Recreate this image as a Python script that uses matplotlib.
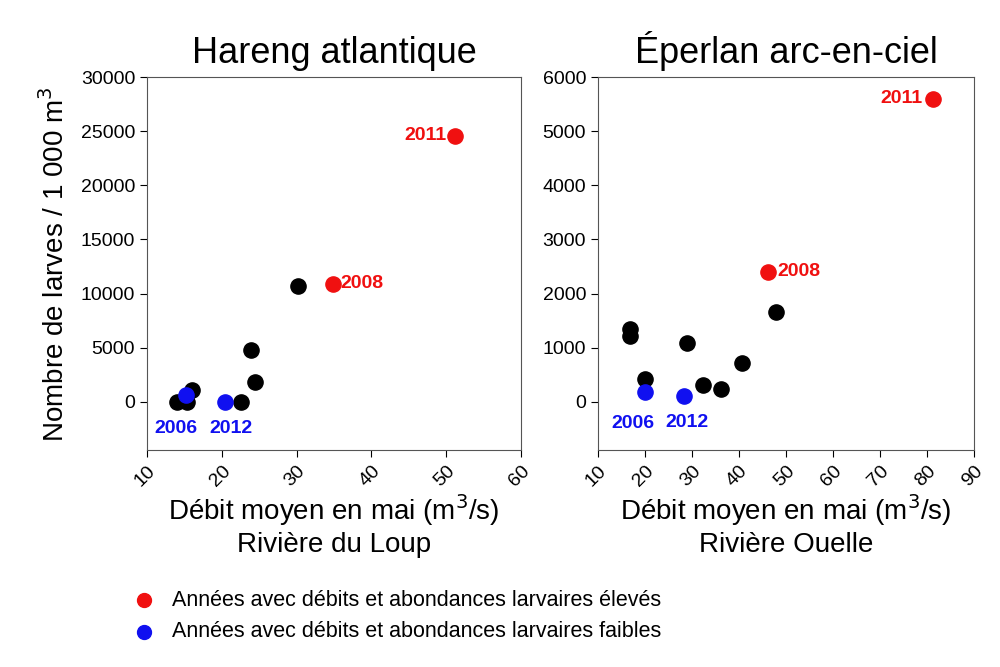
import matplotlib
matplotlib.use("Agg")
import matplotlib.pyplot as plt
plt.rcParams['font.family'] = 'Liberation Sans'

# Hareng atlantique (Rivière du Loup)
h_black_x = [14.0, 15.4, 16.0, 22.5, 23.9, 24.5, 30.2]
h_black_y = [0, 0, 1080, 0, 4780, 1850, 10650]
h_blue_x = [15.2, 20.4]
h_blue_y = [620, 0]
h_blue_lab = ["2006", "2012"]
h_red_x = [34.9, 51.2]
h_red_y = [10900, 24600]
h_red_lab = ["2008", "2011"]

# Éperlan arc-en-ciel (Rivière Ouelle)
e_black_x = [16.8, 16.9, 19.9, 29.0, 32.3, 36.1, 40.6, 47.9]
e_black_y = [1340, 1215, 415, 1090, 310, 230, 720, 1655]
e_blue_x = [19.9, 28.4]
e_blue_y = [185, 95]
e_blue_lab = ["2006", "2012"]
e_red_x = [46.1, 81.3]
e_red_y = [2400, 5605]
e_red_lab = ["2008", "2011"]

fig = plt.figure(figsize=(10, 6.67), dpi=100)
ax1 = fig.add_axes([0.147, 0.325, 0.374, 0.559])
ax2 = fig.add_axes([0.598, 0.325, 0.376, 0.559])
ms = 120
lab = dict(fontsize=14, fontweight='bold')

ax1.scatter(h_black_x, h_black_y, s=ms, c='black', zorder=3)
ax1.scatter(h_blue_x, h_blue_y, s=ms, c='#1010f0', zorder=4)
ax1.scatter(h_red_x, h_red_y, s=ms, c='#f01010', zorder=4)
ax1.text(h_blue_x[0] - 1.3, -2500, h_blue_lab[0], color='#1010f0', ha='center', va='center', **lab)
ax1.text(h_blue_x[1] + 0.8, -2500, h_blue_lab[1], color='#1010f0', ha='center', va='center', **lab)
ax1.text(h_red_x[0] + 1.0, h_red_y[0], h_red_lab[0], color='#f01010', ha='left', va='center', **lab)
ax1.text(h_red_x[1] - 1.2, h_red_y[1], h_red_lab[1], color='#f01010', ha='right', va='center', **lab)
ax1.set_xlim(10, 60)
ax1.set_ylim(-4500, 30000)
ax1.set_xticks(range(10, 61, 10))
ax1.set_yticks(range(0, 30001, 5000))
ax1.set_title("Hareng atlantique", fontsize=26, pad=10)
ax1.set_xlabel("Débit moyen en mai (m$^3$/s)\nRivière du Loup", fontsize=20, labelpad=2)
ax1.set_ylabel("Nombre de larves / 1 000 m$^3$", fontsize=20, labelpad=8)

ax2.scatter(e_black_x, e_black_y, s=ms, c='black', zorder=3)
ax2.scatter(e_blue_x, e_blue_y, s=ms, c='#1010f0', zorder=4)
ax2.scatter(e_red_x, e_red_y, s=ms, c='#f01010', zorder=4)
ax2.text(e_blue_x[0] - 2.5, -400, e_blue_lab[0], color='#1010f0', ha='center', va='center', **lab)
ax2.text(e_blue_x[1] + 0.5, -380, e_blue_lab[1], color='#1010f0', ha='center', va='center', **lab)
ax2.text(e_red_x[0] + 2.0, e_red_y[0], e_red_lab[0], color='#f01010', ha='left', va='center', **lab)
ax2.text(e_red_x[1] - 2.2, e_red_y[1], e_red_lab[1], color='#f01010', ha='right', va='center', **lab)
ax2.set_xlim(10, 90)
ax2.set_ylim(-900, 6000)
ax2.set_xticks(range(10, 91, 10))
ax2.set_yticks(range(0, 6001, 1000))
ax2.set_title("Éperlan arc-en-ciel", fontsize=26, pad=10)
ax2.set_xlabel("Débit moyen en mai (m$^3$/s)\nRivière Ouelle", fontsize=20, labelpad=2)

for ax in (ax1, ax2):
    ax.tick_params(labelsize=14, direction='out', length=5)
    for t in ax.get_xticklabels():
        t.set_rotation(45)
        t.set_ha('right')
        t.set_rotation_mode('anchor')
    for s in ax.spines.values():
        s.set_color('#555555')

fig.lines.append(plt.Line2D([0.144], [0.1], marker='o', color='#f01010', markersize=10, transform=fig.transFigure))
fig.lines.append(plt.Line2D([0.144], [0.053], marker='o', color='#1010f0', markersize=10, transform=fig.transFigure))
fig.text(0.172, 0.1, "Années avec débits et abondances larvaires élevés", fontsize=15.5, va='center')
fig.text(0.172, 0.053, "Années avec débits et abondances larvaires faibles", fontsize=15.5, va='center')

fig.savefig("out.png", dpi=100)
